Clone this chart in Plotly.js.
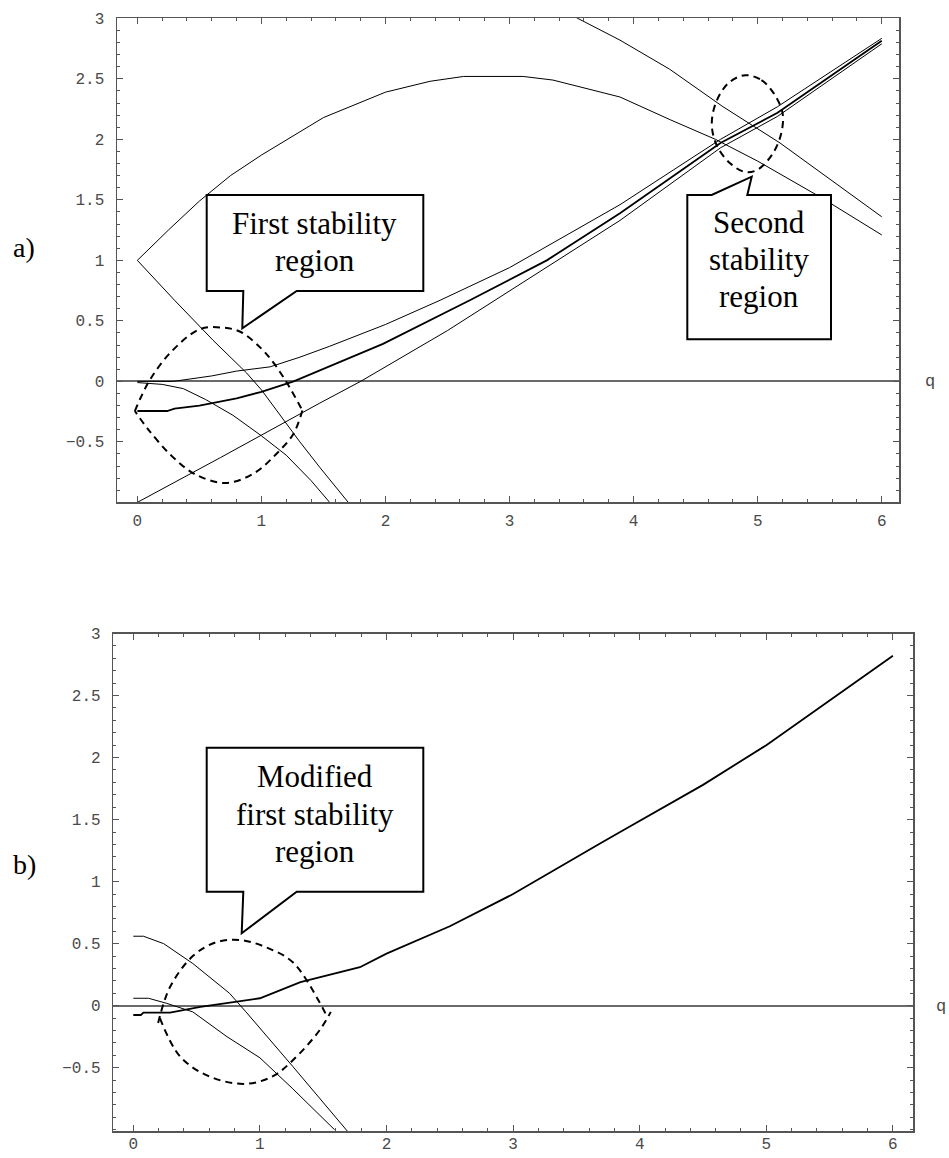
<!DOCTYPE html>
<html>
<head>
<meta charset="utf-8">
<script src="https://cdn.plot.ly/plotly-3.0.1.min.js"></script>
<style>html,body{margin:0;padding:0;background:#fff;}#chart{width:949px;height:1158px;}</style>
</head>
<body>
<div id="chart"></div>
<script>
// ---------- Panel a) curves ----------
const aCurveA_q = [0, 0.25, 0.5, 0.75, 1.0, 1.5, 2.0, 2.36, 2.63, 3.11, 3.35, 3.89, 4.3, 4.66, 5.0, 5.51, 6.0];
const aCurveA_y = [1.0, 1.25, 1.49, 1.70, 1.87, 2.18, 2.39, 2.48, 2.52, 2.52, 2.49, 2.35, 2.16, 2.0, 1.82, 1.52, 1.21];

const aCurveB_q = [3.3, 3.55, 3.89, 4.29, 4.72, 5.18, 6.0];
const aCurveB_y = [3.15, 3.0, 2.82, 2.58, 2.27, 1.97, 1.36];

const aCurveC_q = [0, 0.3, 0.61, 0.88, 1.0, 1.31, 1.47, 1.7];
const aCurveC_y = [1.0, 0.67, 0.34, 0.07, -0.07, -0.5, -0.71, -1.0];

const aCurveD_q = [0, 0.1, 0.2, 0.37, 0.55, 0.77, 1.0, 1.2, 1.4, 1.55];
const aCurveD_y = [-0.01, -0.02, -0.025, -0.06, -0.15, -0.28, -0.45, -0.61, -0.82, -1.0];

const aCurveE_q = [0, 0.29, 0.6, 0.8, 1.07, 1.31, 1.55, 2.0, 2.44, 3.0, 3.89, 4.7, 5.16, 6.0];
const aCurveE_y = [0, 0, 0.045, 0.085, 0.12, 0.2, 0.29, 0.47, 0.67, 0.94, 1.46, 2.0, 2.27, 2.835];

const aCurveF_q = [0, 0.24, 0.3, 0.5, 0.8, 1.0, 1.26, 1.47, 1.98, 2.68, 3.3, 3.89, 4.7, 5.16, 6.0];
const aCurveF_y = [-0.245, -0.245, -0.225, -0.2, -0.14, -0.086, 0.0, 0.09, 0.31, 0.67, 1.0, 1.39, 1.97, 2.22, 2.815];

const aCurveG_q = [0, 0.67, 1.47, 1.8, 2.5, 2.88, 3.3, 3.89, 4.7, 5.16, 6.0];
const aCurveG_y = [-1.0, -0.63, -0.18, 0.0, 0.42, 0.67, 0.94, 1.33, 1.93, 2.19, 2.79];

// dashed "stability region" outlines, panel a)
const aRegion1Upper_q = [-0.02, 0.02, 0.10, 0.26, 0.5, 0.68, 0.83, 1.0, 1.10, 1.21, 1.33];
const aRegion1Upper_y = [-0.245, -0.15, 0.01, 0.23, 0.43, 0.445, 0.41, 0.27, 0.15, -0.02, -0.24];
const aRegion1Lower_q = [1.33, 1.26, 1.12, 0.94, 0.71, 0.47, 0.28, 0.09, -0.02];
const aRegion1Lower_y = [-0.24, -0.43, -0.6, -0.76, -0.84, -0.77, -0.62, -0.40, -0.245];

const aRegion2_q = [4.90, 5.03, 5.13, 5.20, 5.19, 5.12, 5.00, 4.90, 4.78, 4.67, 4.63, 4.67, 4.77, 4.90];
const aRegion2_y = [2.53, 2.49, 2.38, 2.22, 2.05, 1.88, 1.75, 1.73, 1.80, 1.95, 2.13, 2.32, 2.47, 2.53];

// ---------- Panel b) curves ----------
const bCurveH_q = [0, 0.06, 0.08, 0.29, 0.53, 0.8, 1.0, 1.32, 1.79, 2.0, 2.5, 3.0, 3.5, 3.69, 3.88, 4.5, 5.0, 5.5, 6.0];
const bCurveH_y = [-0.075, -0.075, -0.056, -0.056, -0.01, 0.03, 0.06, 0.19, 0.31, 0.42, 0.64, 0.9, 1.2, 1.31, 1.42, 1.78, 2.1, 2.46, 2.82];

const bCurveI_q = [0, 0.08, 0.24, 0.47, 0.76, 0.89, 1.26, 1.69];
const bCurveI_y = [0.56, 0.56, 0.5, 0.34, 0.1, -0.05, -0.49, -1.01];

const bCurveJ_q = [0, 0.12, 0.26, 0.47, 0.74, 1.0, 1.26, 1.59];
const bCurveJ_y = [0.06, 0.06, 0.02, -0.05, -0.25, -0.42, -0.67, -1.0];

const bRegionUpper_q = [0.196, 0.29, 0.47, 0.65, 0.84, 1.05, 1.26, 1.47, 1.53];
const bRegionUpper_y = [-0.14, 0.15, 0.40, 0.51, 0.53, 0.47, 0.35, 0.03, -0.09];
const bRegionLower_q = [0.21, 0.37, 0.6, 0.88, 1.1, 1.26, 1.47, 1.56];
const bRegionLower_y = [-0.10, -0.41, -0.57, -0.63, -0.57, -0.44, -0.2, -0.05];

// tick labels
const xTickVals = [0, 1, 2, 3, 4, 5, 6];
const xTickText = ['0', '1', '2', '3', '4', '5', '6'];
const yTickVals = [-0.5, 0, 0.5, 1, 1.5, 2, 2.5, 3];
const yTickText = ['\u22120.5', '0', '0.5', '1', '1.5', '2', '2.5', '3'];

// ---------- build ----------
const W = 949, H = 1158;
const PX = v => v / W;
const PY = v => 1 - v / H;

function line(q, y, xa, ya, width, dash) {
  return {
    x: q, y: y, xaxis: xa, yaxis: ya, type: 'scatter', mode: 'lines',
    line: {color: '#000', width: width, dash: dash || 'solid', shape: dash ? 'spline' : 'linear'},
    hoverinfo: 'skip', showlegend: false
  };
}
const DASH = '7px,5px';
const traces = [
  line(aCurveA_q, aCurveA_y, 'x', 'y', 1),
  line(aCurveB_q, aCurveB_y, 'x', 'y', 1),
  line(aCurveC_q, aCurveC_y, 'x', 'y', 1),
  line(aCurveD_q, aCurveD_y, 'x', 'y', 1),
  line(aCurveE_q, aCurveE_y, 'x', 'y', 1),
  line(aCurveF_q, aCurveF_y, 'x', 'y', 1.8),
  line(aCurveG_q, aCurveG_y, 'x', 'y', 1),
  line(aRegion1Upper_q, aRegion1Upper_y, 'x', 'y', 2, DASH),
  line(aRegion1Lower_q, aRegion1Lower_y, 'x', 'y', 2, DASH),
  line(aRegion2_q, aRegion2_y, 'x', 'y', 2, DASH),
  line(bCurveH_q, bCurveH_y, 'x2', 'y2', 1.8),
  line(bCurveI_q, bCurveI_y, 'x2', 'y2', 1),
  line(bCurveJ_q, bCurveJ_y, 'x2', 'y2', 1),
  line(bRegionUpper_q, bRegionUpper_y, 'x2', 'y2', 2, DASH),
  line(bRegionLower_q, bRegionLower_y, 'x2', 'y2', 2, DASH)
];

const FRAME = '#555';
const tickFont = {family: 'Liberation Mono, Courier New, monospace', size: 16, color: '#4a4a4a'};
function xAxis(domain, anchor, range, standoff) {
  return {
    domain: domain, anchor: anchor, range: range, tickvals: xTickVals, ticktext: xTickText,
    ticks: 'inside', ticklen: 6, tickwidth: 1, tickcolor: FRAME,
    showline: true, mirror: 'allticks', linecolor: FRAME, linewidth: 1.5,
    showgrid: false, zeroline: false, tickfont: tickFont, ticklabelstandoff: standoff,
    minor: {dtick: 0.2, tick0: 0, ticks: 'inside', ticklen: 3, tickwidth: 1, tickcolor: FRAME, showgrid: false},
    fixedrange: true
  };
}
function yAxis(domain, anchor, range) {
  return {
    domain: domain, anchor: anchor, range: range, tickvals: yTickVals, ticktext: yTickText,
    ticks: 'inside', ticklen: 6, tickwidth: 1, tickcolor: FRAME,
    showline: true, mirror: 'allticks', linecolor: FRAME, linewidth: 1.5,
    showgrid: false, zeroline: true, zerolinecolor: '#6a6a6a', zerolinewidth: 2,
    tickfont: tickFont, ticklabelstandoff: 8,
    minor: {dtick: 0.1, tick0: 0, ticks: 'inside', ticklen: 3, tickwidth: 1, tickcolor: FRAME, showgrid: false},
    fixedrange: true
  };
}

function pathPx(pts) {
  return 'M ' + pts.map(p => PX(p[0]).toFixed(5) + ',' + PY(p[1]).toFixed(5)).join(' L ') + ' Z';
}
const calloutStyle = {type: 'path', xref: 'paper', yref: 'paper', layer: 'above',
  line: {color: '#000', width: 2}, fillcolor: '#fff'};
const shapes = [
  Object.assign({}, calloutStyle, {path: pathPx([[206.7,195],[423.3,195],[423.3,291],[296.7,291],[242.3,328.3],[243.3,291],[206.7,291]])}),
  Object.assign({}, calloutStyle, {path: pathPx([[687.3,195],[711.7,195],[751.7,176.7],[747.3,195],[831,195],[831,339.3],[687.3,339.3]])}),
  Object.assign({}, calloutStyle, {path: pathPx([[206.7,747.7],[423.3,747.7],[423.3,891.7],[296.7,891.7],[241.7,933.3],[243.3,891.7],[206.7,891.7]])})
];

const serif = 'Liberation Serif, Times New Roman, serif';
function txt(s, x, y, size) {
  return {text: s, x: PX(x), y: PY(y), xref: 'paper', yref: 'paper', showarrow: false,
    xanchor: 'center', yanchor: 'middle', font: {family: serif, size: size || 31, color: '#000'}};
}
const annotations = [
  txt('First stability', 314.5, 224),
  txt('region', 314.5, 260.7),
  txt('Second', 759, 222),
  txt('stability', 759, 259),
  txt('region', 759, 296),
  txt('Modified', 315, 776),
  txt('first stability', 315, 814),
  txt('region', 315, 851),
  txt('a)', 24, 247, 28),
  txt('b)', 24, 864, 28),
  {text: 'q', x: PX(930), y: PY(381), xref: 'paper', yref: 'paper', showarrow: false,
   xanchor: 'center', yanchor: 'middle', font: {family: tickFont.family, size: 17, color: '#4a4a4a'}},
  {text: 'q', x: PX(941), y: PY(1006), xref: 'paper', yref: 'paper', showarrow: false,
   xanchor: 'center', yanchor: 'middle', font: {family: tickFont.family, size: 17, color: '#4a4a4a'}}
];

const layout = {
  width: W, height: H, margin: {l: 0, r: 0, t: 0, b: 0},
  paper_bgcolor: '#fff', plot_bgcolor: '#fff', showlegend: false,
  xaxis: xAxis([PX(117), PX(899)], 'y', [-0.164, 6.139], 3),
  yaxis: yAxis([PY(502), PY(18)], 'x', [-0.997, 3.003]),
  xaxis2: xAxis([PX(113.3), PX(913.3)], 'y2', [-0.158, 6.161], -3),
  yaxis2: yAxis([PY(1131), PY(633.5)], 'x2', [-1.01, 3.0]),
  shapes: shapes,
  annotations: annotations
};

Plotly.newPlot('chart', traces, layout, {displayModeBar: false, staticPlot: true});
</script>
</body>
</html>
